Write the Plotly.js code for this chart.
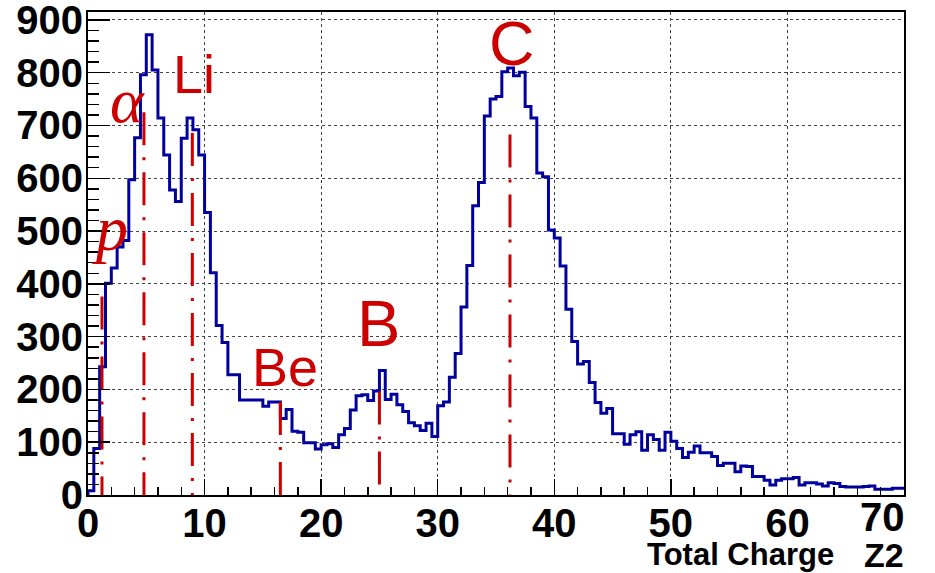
<!DOCTYPE html>
<html><head><meta charset="utf-8">
<script src="https://cdn.plot.ly/plotly-3.0.1.min.js"></script>
<style>html,body{margin:0;padding:0;background:#fff}#chart{width:935px;height:573px}</style>
</head><body><div id="chart"></div>
<script>
// Histogram of total charge Z2, 140 bins of width 0.5 from 0 to 70
const binWidth = 0.5;
const counts = [
  8, 88, 243, 401, 430, 470, 482, 597, 677, 796,
  872, 805, 714, 644, 578, 556, 676, 714, 692, 644,
  535, 421, 321, 289, 228, 228, 180, 180, 180, 180,
  168, 176, 176, 145, 162, 121, 119, 99, 99, 87,
  95, 97, 90, 114, 126, 161, 188, 190, 179, 197,
  236, 181, 191, 171, 158, 137, 131, 122, 136, 111,
  169, 176, 223, 268, 356, 435, 548, 592, 718, 750,
  755, 802, 809, 794, 801, 736, 714, 610, 603, 502,
  487, 434, 352, 291, 248, 253, 213, 175, 155, 164,
  116, 116, 96, 114, 120, 85, 114, 105, 85, 119,
  102, 88, 71, 81, 93, 80, 80, 73, 56, 60,
  60, 44, 55, 54, 35, 35, 28, 19, 28, 31,
  31, 33, 19, 23, 23, 21, 17, 23, 22, 16,
  15, 15, 15, 16, 17, 11, 11, 11, 13, 13
];
// Peak markers (dash-dot lines): species, Z2 position, line top
const species = ['p', 'α', 'Li', 'Be', 'B', 'C'];
const peakZ = [1.2, 4.8, 8.95, 16.5, 25.0, 36.2];
const peakTop = [376, 725, 686, 176, 196, 683];
const xTickVals = [0, 10, 20, 30, 40, 50, 60, 70];
const yTickVals = [0, 100, 200, 300, 400, 500, 600, 700, 800, 900];
const xTitle = 'Total Charge';
const xTitleVar = 'Z2';

const RED = '#cc0000';
const BLUE = '#00009e';

const hx = [0], hy = [0];
counts.forEach((c, i) => { hx.push(i * binWidth); hy.push(c); });
hx.push(counts.length * binWidth); hy.push(counts[counts.length - 1]);

const traces = [{
  type: 'scatter', mode: 'lines', x: hx, y: hy,
  line: {shape: 'hv', color: BLUE, width: 3},
  hoverinfo: 'skip', showlegend: false
}];
peakZ.forEach((z, i) => {
  traces.push({
    type: 'scatter', mode: 'lines', x: [z, z], y: [peakTop[i], 0],
    line: {color: RED, width: 3, dash: '33px,12px,3px,12px'},
    hoverinfo: 'skip', showlegend: false
  });
});

const labelPos = [
  {x: 1.9, y: 504, size: 64, fam: 'Liberation Serif', style: 'italic'},
  {x: 3.4, y: 748, size: 64, fam: 'Liberation Serif', style: 'italic'},
  {x: 9.1, y: 798, size: 54, fam: 'Liberation Sans', style: 'normal'},
  {x: 16.9, y: 243, size: 54, fam: 'Liberation Sans', style: 'normal'},
  {x: 24.96, y: 324, size: 65, fam: 'Liberation Sans', style: 'normal'},
  {x: 36.4, y: 856, size: 63, fam: 'Liberation Sans', style: 'normal'}
];
const annotations = species.map((s, i) => ({
  text: s, x: labelPos[i].x, y: labelPos[i].y, xref: 'x', yref: 'y',
  showarrow: false, xanchor: 'center', yanchor: 'middle',
  font: {family: labelPos[i].fam, size: labelPos[i].size, color: RED, style: labelPos[i].style}
}));
// axis title (right aligned, ROOT style) and the last x tick label (pulled inside)
annotations.push({
  text: xTitle, xref: 'paper', yref: 'paper', x: 0.917, y: -0.124,
  xanchor: 'right', yanchor: 'middle', showarrow: false,
  font: {family: 'Liberation Sans', size: 31, weight: 'bold', color: '#000'}
});
annotations.push({
  text: xTitleVar, xref: 'paper', yref: 'paper', x: 1.002, y: -0.124,
  xanchor: 'right', yanchor: 'middle', showarrow: false,
  font: {family: 'Liberation Sans', size: 34, weight: 'bold', color: '#000'}
});

const tickFont = {family: 'Liberation Sans', size: 40, weight: 'bold', color: '#000'};
const xText = xTickVals.map((v, i) => i === xTickVals.length - 1 ? '' : String(v));
annotations.push({
  text: String(xTickVals[xTickVals.length - 1]), xref: 'x', yref: 'paper',
  x: xTickVals[xTickVals.length - 1], y: 0, xanchor: 'right', yanchor: 'top',
  xshift: 3, yshift: 2, showarrow: false, font: tickFont
});

const layout = {
  width: 935, height: 573, autosize: false,
  margin: {l: 88, r: 31, t: 12, b: 78, pad: 0},
  paper_bgcolor: '#fff', plot_bgcolor: '#fff',
  showlegend: false,
  xaxis: {
    range: [0, 70], tickmode: 'array', tickvals: xTickVals, ticktext: xText,
    ticks: 'inside', ticklen: 16, tickwidth: 1.5, tickcolor: '#000',
    minor: {dtick: 2, tick0: 0, ticks: 'inside', ticklen: 8, tickwidth: 1.5, tickcolor: '#000', showgrid: false},
    showgrid: true, gridcolor: '#444', gridwidth: 1, griddash: 'dot',
    showline: true, linecolor: '#000', linewidth: 2, mirror: true, zeroline: false,
    tickfont: tickFont, ticklabelstandoff: -8, ticklabeloverflow: 'allow', fixedrange: true
  },
  yaxis: {
    range: [0, 915], tickmode: 'array', tickvals: yTickVals, ticktext: yTickVals.map(String),
    ticks: 'inside', ticklen: 22, tickwidth: 1.5, tickcolor: '#000',
    minor: {dtick: 20, tick0: 0, ticks: 'inside', ticklen: 11, tickwidth: 1.5, tickcolor: '#000', showgrid: false},
    showgrid: true, gridcolor: '#444', gridwidth: 1, griddash: 'dot',
    showline: true, linecolor: '#000', linewidth: 2, mirror: true, zeroline: false,
    tickfont: tickFont, ticklabelstandoff: -5, ticklabeloverflow: 'allow', fixedrange: true
  },
  annotations: annotations
};
Plotly.newPlot('chart', traces, layout, {staticPlot: true, displayModeBar: false});
</script>
</body></html>
